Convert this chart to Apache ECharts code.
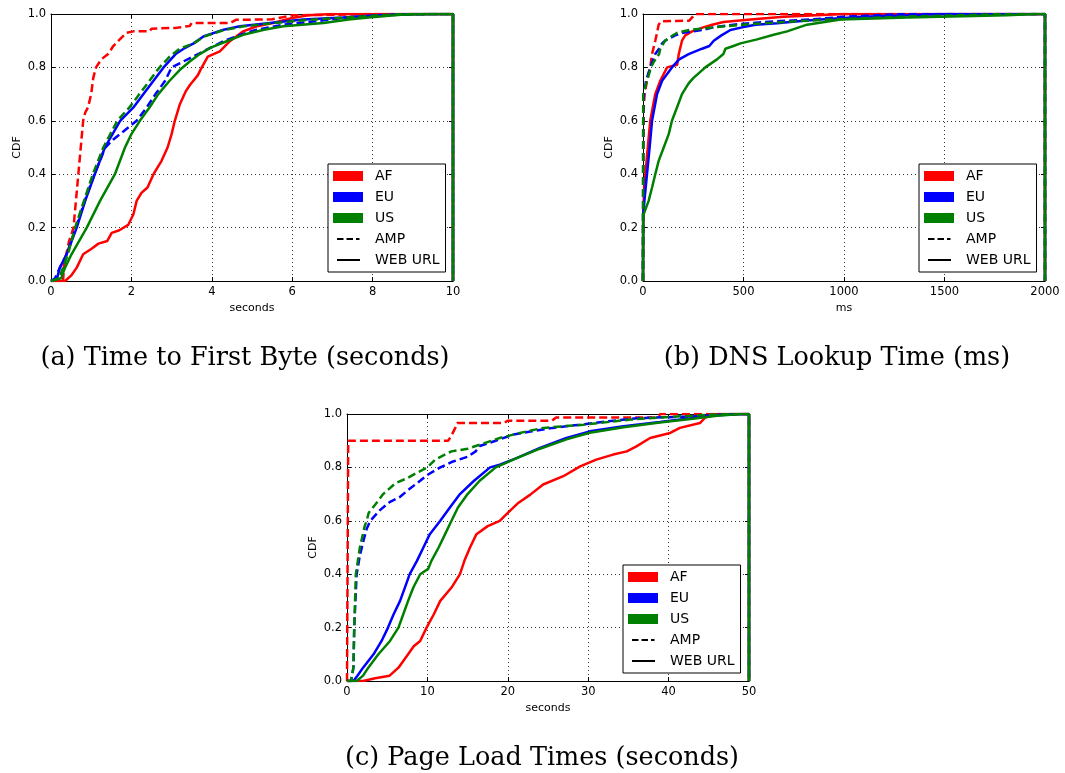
<!DOCTYPE html>
<html><head><meta charset="utf-8">
<script src="https://cdn.jsdelivr.net/npm/echarts@6/dist/echarts.min.js"></script>
<style>html,body{margin:0;padding:0;background:#fff}#c{width:1065px;height:773px}</style>
</head><body><div id="c"></div>
<script>
// ---------- Data ----------
const legendNames = ['AF', 'EU', 'US', 'AMP', 'WEB URL'];
const yTicks = [0, 0.2, 0.4, 0.6, 0.8, 1.0];
const captions = ['(a) Time to First Byte (seconds)', '(b) DNS Lookup Time (ms)', '(c) Page Load Times (seconds)'];
const xNames = ['seconds', 'ms', 'seconds'];
const xMax = [10, 2000, 50];
const xStep = [2, 500, 10];

// (a) Time to First Byte, seconds
const ttfb_AF_AMP = [[0,0],[0.3,0],[0.33,0.07],[0.38,0.1],[0.45,0.15],[0.52,0.18],[0.56,0.2],[0.62,0.3],[0.68,0.4],[0.74,0.5],[0.8,0.6],[0.85,0.63],[0.92,0.65],[1.0,0.7],[1.05,0.76],[1.12,0.8],[1.25,0.83],[1.42,0.85],[1.55,0.88],[1.68,0.9],[1.88,0.93],[2.05,0.935],[2.45,0.935],[2.5,0.945],[3.1,0.948],[3.45,0.955],[3.5,0.966],[4.45,0.966],[4.6,0.978],[5.5,0.98],[6,0.995],[7,0.997],[8,1],[10,1],[10,0]];
const ttfb_AF_WEB = [[0,0],[0.35,0],[0.5,0.02],[0.64,0.05],[0.8,0.1],[1.0,0.12],[1.18,0.14],[1.4,0.15],[1.51,0.18],[1.7,0.19],[1.92,0.21],[2.05,0.25],[2.13,0.3],[2.25,0.33],[2.4,0.35],[2.55,0.4],[2.75,0.45],[2.9,0.5],[3.0,0.55],[3.08,0.6],[3.2,0.66],[3.35,0.71],[3.46,0.735],[3.65,0.77],[3.75,0.8],[3.9,0.84],[4.2,0.86],[4.45,0.898],[4.78,0.935],[5.12,0.954],[5.52,0.966],[6.0,0.985],[6.4,0.995],[7,1],[10,1],[10,0]];
const ttfb_EU_AMP = [[0,0],[0.1,0.01],[0.22,0.05],[0.39,0.1],[0.62,0.2],[0.84,0.3],[1.08,0.4],[1.35,0.5],[1.55,0.53],[1.8,0.56],[2.13,0.6],[2.38,0.65],[2.6,0.7],[2.84,0.75],[3.0,0.8],[3.46,0.835],[3.96,0.873],[4.29,0.898],[4.7,0.922],[5.12,0.941],[5.78,0.96],[6.6,0.973],[7.26,0.985],[7.92,0.991],[8.6,0.997],[9.5,1],[10,1],[10,0]];
const ttfb_EU_WEB = [[0,0],[0.15,0.01],[0.22,0.05],[0.39,0.1],[0.64,0.2],[0.85,0.3],[1.09,0.4],[1.34,0.5],[1.72,0.6],[2.05,0.65],[2.3,0.7],[2.55,0.75],[2.8,0.8],[3.1,0.85],[3.3,0.87],[3.55,0.89],[3.79,0.916],[4.29,0.941],[4.7,0.954],[5.45,0.966],[6.27,0.979],[7.26,0.987],[8.1,0.995],[9,1],[10,1],[10,0]];
const ttfb_US_AMP = [[0,0],[0.2,0.01],[0.3,0.05],[0.42,0.1],[0.6,0.2],[0.82,0.3],[1.04,0.4],[1.3,0.5],[1.65,0.6],[1.95,0.65],[2.2,0.7],[2.45,0.75],[2.7,0.8],[2.95,0.84],[3.2,0.87],[3.55,0.89],[3.8,0.915],[4.3,0.94],[4.75,0.953],[5.5,0.965],[6.3,0.977],[7.3,0.986],[8.1,0.994],[8.8,1],[10,1],[10,0]];
const ttfb_US_WEB = [[0,0],[0.25,0.01],[0.35,0.05],[0.51,0.1],[0.89,0.2],[1.22,0.3],[1.59,0.4],[1.84,0.5],[2.0,0.55],[2.21,0.6],[2.45,0.65],[2.67,0.7],[2.95,0.75],[3.2,0.79],[3.46,0.823],[3.7,0.85],[3.96,0.873],[4.37,0.898],[4.78,0.922],[5.3,0.941],[5.78,0.954],[6.78,0.966],[7.4,0.979],[7.9,0.987],[8.7,0.997],[9.5,1],[10,1],[10,0]];

// (b) DNS Lookup Time, ms
const dns_AF_AMP = [[0,0],[2,0.5],[4,0.65],[8,0.7],[20,0.75],[36,0.8],[45,0.85],[61,0.9],[70,0.93],[78,0.96],[90,0.973],[230,0.975],[260,1],[2000,1],[2000,0]];
const dns_AF_WEB = [[0,0],[1,0.25],[5,0.33],[12,0.4],[20,0.47],[36,0.6],[61,0.7],[86,0.75],[120,0.8],[170,0.81],[178,0.85],[194,0.9],[210,0.92],[244,0.935],[300,0.95],[344,0.96],[400,0.97],[550,0.98],[700,0.99],[1000,1],[2000,1],[2000,0]];
const dns_EU_AMP = [[0,0],[1,0.6],[3,0.68],[5,0.7],[15,0.75],[36,0.8],[61,0.85],[80,0.87],[95,0.89],[110,0.9],[160,0.92],[200,0.93],[294,0.94],[350,0.95],[450,0.96],[600,0.97],[850,0.98],[1000,0.99],[1300,1],[2000,1],[2000,0]];
const dns_EU_WEB = [[0,0],[1,0.25],[7,0.3],[20,0.4],[33,0.5],[45,0.6],[70,0.7],[95,0.75],[144,0.8],[180,0.83],[227,0.85],[294,0.87],[330,0.88],[352,0.9],[390,0.92],[435,0.94],[493,0.95],[560,0.96],[667,0.965],[800,0.975],[900,0.98],[1100,0.99],[1500,1],[2000,1],[2000,0]];
const dns_US_AMP = [[0,0],[1,0.7],[20,0.75],[40,0.8],[53,0.82],[80,0.85],[86,0.87],[110,0.9],[128,0.91],[170,0.93],[230,0.94],[350,0.95],[500,0.96],[700,0.97],[950,0.98],[1300,0.99],[1800,1],[2000,1],[2000,0]];
const dns_US_WEB = [[0,0],[1,0.22],[3,0.25],[28,0.3],[45,0.35],[61,0.4],[78,0.45],[103,0.5],[128,0.55],[144,0.6],[169,0.65],[194,0.7],[227,0.74],[250,0.76],[310,0.8],[368,0.83],[400,0.85],[410,0.87],[450,0.88],[485,0.89],[568,0.905],[650,0.922],[717,0.935],[816,0.96],[983,0.979],[1315,0.987],[1810,0.995],[1950,1],[2000,1],[2000,0]];

// (c) Page Load Times, seconds
const plt_AF_AMP = [[0,0],[0.1,0],[0.15,0.9],[12.6,0.9],[13,0.92],[13.5,0.95],[13.7,0.966],[19.5,0.966],[20,0.975],[25.5,0.975],[26,0.987],[38.5,0.987],[39,1],[50,1],[50,0]];
const plt_AF_WEB = [[0,0],[2,0],[3.5,0.01],[5.3,0.02],[6.4,0.05],[7.6,0.1],[8.3,0.13],[9.1,0.15],[9.9,0.2],[10.8,0.25],[11.6,0.3],[13,0.35],[14.05,0.4],[14.6,0.45],[15.3,0.5],[16.1,0.55],[17.5,0.58],[19,0.6],[20,0.63],[21.3,0.667],[22.8,0.698],[24.4,0.736],[26.9,0.767],[29,0.804],[31,0.829],[33.1,0.848],[34.8,0.86],[36,0.879],[37.7,0.91],[40.2,0.929],[41.4,0.948],[43.9,0.966],[44.5,0.985],[45.5,1],[50,1],[50,0]];
const plt_EU_AMP = [[0,0],[0.5,0],[0.8,0.05],[0.9,0.2],[1.2,0.4],[1.6,0.47],[2.0,0.52],[2.45,0.57],[2.9,0.6],[4.1,0.64],[5.3,0.67],[6.6,0.69],[7.8,0.72],[9.1,0.75],[9.9,0.77],[11.6,0.8],[13,0.82],[15,0.84],[16,0.86],[16.5,0.88],[18.5,0.9],[20.7,0.923],[23,0.935],[25.6,0.948],[29,0.96],[32.3,0.972],[36.4,0.985],[42.3,0.99],[48,1],[50,1],[50,0]];
const plt_EU_WEB = [[0,0],[0.8,0],[1.3,0.02],[2.0,0.05],[3.3,0.1],[4.3,0.15],[5.1,0.2],[5.8,0.25],[6.6,0.3],[7.2,0.35],[7.8,0.4],[8.7,0.45],[9.5,0.5],[10.3,0.55],[11.6,0.6],[12.8,0.65],[14.05,0.7],[15.8,0.75],[17.8,0.8],[19,0.81],[21.1,0.835],[24,0.873],[27.3,0.91],[30.2,0.935],[34.4,0.954],[38.9,0.97],[43,0.985],[46,0.995],[49,1],[50,1],[50,0]];
const plt_US_AMP = [[0,0],[0.5,0],[0.8,0.05],[0.9,0.2],[1.1,0.4],[1.6,0.5],[2.2,0.58],[2.45,0.6],[2.7,0.63],[3.5,0.66],[4.5,0.7],[6,0.74],[7.5,0.76],[8.7,0.78],[10,0.8],[11,0.83],[13,0.86],[15,0.87],[16,0.88],[17,0.89],[19,0.91],[21.5,0.929],[24.4,0.948],[29.4,0.96],[35.2,0.979],[38.9,0.987],[43.9,0.995],[47,1],[50,1],[50,0]];
const plt_US_WEB = [[0,0],[1.2,0],[2,0.02],[2.65,0.05],[3.9,0.1],[5.35,0.15],[6.4,0.2],[7.0,0.25],[7.6,0.3],[8.25,0.35],[9.1,0.4],[10.1,0.42],[10.5,0.45],[11.4,0.5],[12.2,0.55],[13,0.6],[13.8,0.65],[15,0.7],[16.5,0.75],[18.5,0.8],[21.1,0.835],[24,0.87],[27.3,0.905],[30.2,0.93],[34.4,0.95],[38.9,0.968],[43,0.982],[46,0.993],[49,1],[50,1],[50,0]];

// ---------- Layout / styles ----------
const panelData = [
  [ttfb_AF_AMP, ttfb_AF_WEB, ttfb_EU_AMP, ttfb_EU_WEB, ttfb_US_AMP, ttfb_US_WEB],
  [dns_AF_AMP, dns_AF_WEB, dns_EU_AMP, dns_EU_WEB, dns_US_AMP, dns_US_WEB],
  [plt_AF_AMP, plt_AF_WEB, plt_EU_AMP, plt_EU_WEB, plt_US_AMP, plt_US_WEB]
];
const grids = [
  {left: 51, top: 14, width: 402, height: 267},
  {left: 643, top: 14, width: 402, height: 267},
  {left: 347, top: 414, width: 402, height: 267}
];
const legendPos = [{left: 328, top: 164}, {left: 919, top: 164}, {left: 623, top: 565}];
const captionPos = [[245, 358], [837, 358], [542, 758]];
const colors = {AF: '#ff0000', EU: '#0000ff', US: '#008000'};
const FONT = 'DejaVu Sans';

const xAxes = [], yAxes = [], series = [], legends = [], graphics = [];
grids.forEach((g, i) => {
  ['bottom', 'top'].forEach(pos => {
    const main = pos === 'bottom';
    xAxes.push({
      type: 'value', gridIndex: i, position: pos, min: 0, max: xMax[i], interval: xStep[i],
      axisLine: {show: true, onZero: false, lineStyle: {color: '#000', width: 1}},
      axisTick: {show: true, inside: true, length: 4, lineStyle: {color: '#000', width: 1}},
      axisLabel: {show: main, color: '#000', fontSize: 11.5, fontFamily: FONT, margin: 5,
        formatter: v => String(v)},
      splitLine: {show: main, lineStyle: {color: '#000', type: [1, 3], width: 0.8}},
      name: main ? xNames[i] : '', nameLocation: 'middle', nameGap: 22,
      nameTextStyle: {color: '#000', fontSize: 11, fontFamily: FONT}
    });
  });
  ['left', 'right'].forEach(pos => {
    const main = pos === 'left';
    yAxes.push({
      type: 'value', gridIndex: i, position: pos, min: 0, max: 1, interval: 0.2,
      axisLine: {show: true, onZero: false, lineStyle: {color: '#000', width: 1}},
      axisTick: {show: true, inside: true, length: 4, lineStyle: {color: '#000', width: 1}},
      axisLabel: {show: main, color: '#000', fontSize: 11.5, fontFamily: FONT, margin: 5,
        formatter: v => yTicks.includes(+v.toFixed(1)) ? v.toFixed(1) : ''},
      splitLine: {show: main, lineStyle: {color: '#000', type: [1, 3], width: 0.8}},
      name: main ? 'CDF' : '', nameLocation: 'middle', nameGap: 28,
      nameTextStyle: {color: '#000', fontSize: 11, fontFamily: FONT}
    });
  });
  const keys = [['AF', true], ['AF', false], ['EU', true], ['EU', false], ['US', true], ['US', false]];
  keys.forEach(([reg, amp], k) => {
    series.push({
      type: 'line', name: reg, xAxisIndex: i * 2, yAxisIndex: i * 2,
      data: panelData[i][k], symbol: 'none', showSymbol: false, animation: false,
      color: colors[reg], itemStyle: {color: colors[reg]},
      lineStyle: {color: colors[reg], width: 2.5, type: amp ? [8, 4] : 'solid'}, z: 2 + k * 0.1
    });
  });
  legends.push({
    orient: 'vertical', left: legendPos[i].left, top: legendPos[i].top,
    padding: [5, 6, 5, 5], itemWidth: 30, itemHeight: 10, itemGap: 7,
    backgroundColor: '#fff', borderColor: '#000', borderWidth: 1, borderRadius: 0,
    selectedMode: false,
    textStyle: {fontFamily: FONT, fontSize: 14, color: '#000', lineHeight: 14, padding: [0, 0, 0, 7]},
    data: [
      {name: legendNames[0], icon: 'rect'},
      {name: legendNames[1], icon: 'rect'},
      {name: legendNames[2], icon: 'rect'},
      {name: legendNames[3], icon: 'path://M0,0h0.01v0.01h-0.01zM29.99,9.99h0.01v0.01h-0.01zM4,4h6.5v2h-6.5zM13.5,4h6.5v2h-6.5zM23,4h3.5v2h-3.5z'},
      {name: legendNames[4], icon: 'path://M0,0h0.01v0.01h-0.01zM29.99,9.99h0.01v0.01h-0.01zM4,4h23v2h-23z'}
    ]
  });
  graphics.push({
    type: 'text', x: captionPos[i][0], y: captionPos[i][1],
    style: {text: captions[i], fill: '#000', fontFamily: 'DejaVu Serif', fontSize: 25.5,
      align: 'center', verticalAlign: 'middle'}
  });
});
// legend-only entries for line styles
series.push({type: 'line', name: 'AMP', xAxisIndex: 0, yAxisIndex: 0, data: [], color: '#000',
  itemStyle: {color: '#000'}, lineStyle: {color: '#000', type: [8, 4]}});
series.push({type: 'line', name: 'WEB URL', xAxisIndex: 0, yAxisIndex: 0, data: [], color: '#000',
  itemStyle: {color: '#000'}, lineStyle: {color: '#000'}});

const chart = echarts.init(document.getElementById('c'), null, {renderer: 'canvas'});
chart.setOption({
  animation: false,
  backgroundColor: '#fff',
  grid: grids.map(g => Object.assign({containLabel: false}, g)),
  xAxis: xAxes, yAxis: yAxes, legend: legends, series: series, graphic: graphics
});
</script></body></html>
